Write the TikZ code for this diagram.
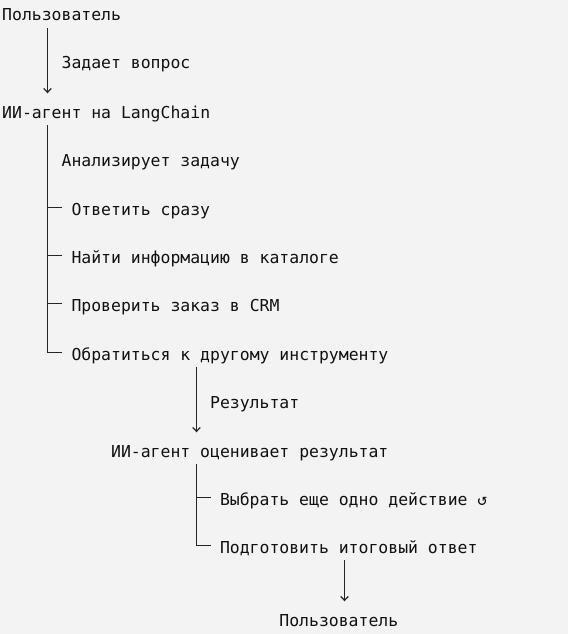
\documentclass[tikz,border=0pt]{standalone}
\usepackage{fontspec}
\setmonofont{DejaVu Sans Mono}
\usetikzlibrary{arrows.meta}
\definecolor{bgcol}{HTML}{F3F3F3}
\definecolor{inkcol}{HTML}{111111}
\definecolor{barcol}{HTML}{262626}
\tikzset{
        treenode/.style={anchor=base west, inner sep=0pt, text height=16pt, text depth=1pt, font=\ttfamily\fontsize{16.45}{20}\selectfont, text=inkcol},
        % Step nodes
        node_step/.style={treenode},
        % Labels beside the bars
        node_label/.style={treenode},
        % Tree bars
        edge_bar/.style={draw=barcol, line width=1.2pt, shorten <=6pt},
        % Flow arrows
        edge_flow/.style={edge_bar, ->, shorten >=8.5pt}
}
\begin{document}
\begin{tikzpicture}[x=1pt, y=-1pt, >={Straight Barb[length=4pt,width=7.5pt]}]
    \useasboundingbox[fill=bgcol] (0,0) rectangle (568,634);
    % columns of the bars
    \coordinate (col_a) at (47.5,0);
    \coordinate (col_b) at (196.5,0);
    \coordinate (col_c) at (344.5,0);

    \node[node_step] (user_top) at (2,21) {Пользователь};
    \node[node_label] (ask) at (61.4,69) {Задает вопрос};
    \node[node_step] (agent) at (2,118) {ИИ-агент на LangChain};
    \node[node_label] (analyze) at (61.4,166) {Анализирует задачу};
    \node[node_step] (act_answer) at (71.3,215) {Ответить сразу};
    \node[node_step] (act_catalog) at (71.3,263) {Найти информацию в каталоге};
    \node[node_step] (act_crm) at (71.3,311) {Проверить заказ в CRM};
    \node[node_step] (act_tool) at (71.3,360) {Обратиться к другому инструменту};
    \node[node_label] (result) at (209.9,408) {Результат};
    \node[node_step] (agent_eval) at (110.9,457) {ИИ-агент оценивает результат};
    \node[node_step] (act_again) at (219.8,505) {Выбрать еще одно действие ↺};
    \node[node_step] (act_final) at (219.8,553) {Подготовить итоговый ответ};
    \node[node_step] (user_bottom) at (279.2,626) {Пользователь};

    \draw[edge_flow] (user_top.south -| col_a) -- (agent.north -| col_a);
    \draw[edge_bar] (agent.south -| col_a) -- (act_tool.west -| col_a) -- ([xshift=-9pt]act_tool.west);
    \foreach \act in {act_answer, act_catalog, act_crm}
        \draw[edge_bar, shorten <=0pt] (\act.west -| col_a) -- ([xshift=-9pt]\act.west);
    \draw[edge_flow] (act_tool.south -| col_b) -- (agent_eval.north -| col_b);
    \draw[edge_bar] (agent_eval.south -| col_b) -- (act_final.west -| col_b) -- ([xshift=-9pt]act_final.west);
    \draw[edge_bar, shorten <=0pt] (act_again.west -| col_b) -- ([xshift=-9pt]act_again.west);
    \draw[edge_flow] (act_final.south -| col_c) -- (user_bottom.north -| col_c);
\end{tikzpicture}
\end{document}
